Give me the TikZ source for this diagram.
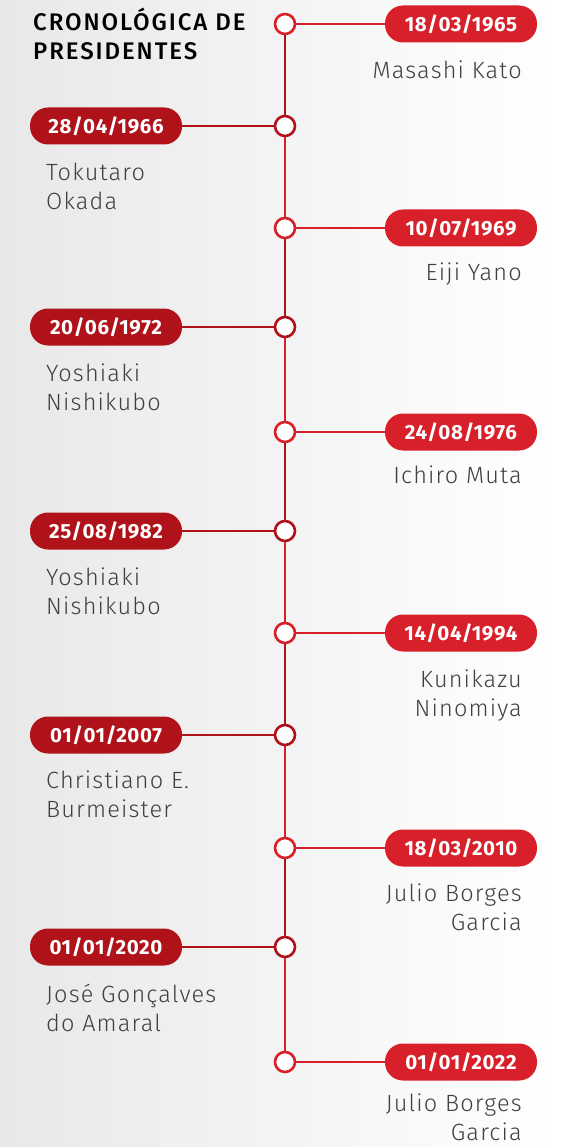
\documentclass[tikz,border=0pt]{standalone}
\usepackage{fontspec}
\setmainfont{Fira Sans}
\newfontfamily\namefont{Fira Sans Light}[LetterSpace=5]
\newfontfamily\datefont{Fira Sans}[LetterSpace=3]
\newfontfamily\titlefont{Fira Sans Medium}[LetterSpace=8]
\usetikzlibrary{positioning}
\definecolor{redlight}{HTML}{D7202A}
\definecolor{reddark}{HTML}{B0121A}
\definecolor{namegray}{HTML}{404040}
\tikzset{
    dotR/.style={circle, draw=redlight, fill=white, line width=2.6pt, minimum size=20pt, inner sep=0pt},
    dotL/.style={dotR, draw=reddark},
    dateR/.style={fill=redlight, text=white, rounded corners=18pt, minimum width=152pt, minimum height=37pt,
        inner sep=0pt, font=\datefont\fontsize{20.5}{22}\selectfont\bfseries},
    dateL/.style={dateR, fill=reddark},
    nameR/.style={anchor=north east, align=right, inner sep=0pt, text=namegray, font=\namefont\fontsize{23.5}{29}\selectfont},
    nameL/.style={nameR, anchor=north west, align=left},
    linkR/.style={draw=redlight, line width=2pt},
    linkL/.style={draw=reddark, line width=2pt},
    segR/.style={draw=redlight, line width=2.6pt},
    segL/.style={draw=reddark, line width=2.6pt}
}

\begin{document}
\begin{tikzpicture}[x=1pt, y=-1pt]
    % Background
    \shade[left color=black!9, right color=white] (0, 0) rectangle (561, 1147);
    \useasboundingbox (0, 0) rectangle (561, 1147);
    % Title
    \node[anchor=north west, align=left, inner sep=0pt, font=\titlefont\fontsize{24}{29}\selectfont] (title) at (33, 8)
        {CRONOLÓGICA DE\\PRESIDENTES};
    % Circles
    \node[dotR] (c1) at (285, 24) {};
    \node[dotL] (c2) at (285, 126) {};
    \node[dotR] (c3) at (285, 228) {};
    \node[dotL] (c4) at (285, 327) {};
    \node[dotR] (c5) at (285, 432) {};
    \node[dotL] (c6) at (285, 531) {};
    \node[dotR] (c7) at (285, 633) {};
    \node[dotL] (c8) at (285, 735) {};
    \node[dotR] (c9) at (285, 848) {};
    \node[dotL] (c10) at (285, 947) {};
    \node[dotR] (c11) at (285, 1062) {};
    % Line
    \draw[segL] (c1) -- (c2);
    \draw[segR] (c2) -- (c3);
    \draw[segL] (c3) -- (c4);
    \draw[segR] (c4) -- (c5);
    \draw[segL] (c5) -- (c6);
    \draw[segR] (c6) -- (c7);
    \draw[segL] (c7) -- (c8);
    \draw[segR] (c8) -- (c9);
    \draw[segL] (c9) -- (c10);
    \draw[segR] (c10) -- (c11);
    % Dates
    \node[dateR] (d1) at (461, 24) {18/03/1965};
    \node[dateL] (d2) at (106, 126) {28/04/1966};
    \node[dateR] (d3) at (461, 228) {10/07/1969};
    \node[dateL] (d4) at (106, 327) {20/06/1972};
    \node[dateR] (d5) at (461, 432) {24/08/1976};
    \node[dateL] (d6) at (106, 531) {25/08/1982};
    \node[dateR] (d7) at (461, 633) {14/04/1994};
    \node[dateL] (d8) at (106, 735) {01/01/2007};
    \node[dateR] (d9) at (461, 848) {18/03/2010};
    \node[dateL] (d10) at (106, 947) {01/01/2020};
    \node[dateR] (d11) at (461, 1062) {01/01/2022};
    % Links
    \draw[linkR] (c1) -- (d1);
    \draw[linkL] (c2) -- (d2);
    \draw[linkR] (c3) -- (d3);
    \draw[linkL] (c4) -- (d4);
    \draw[linkR] (c5) -- (d5);
    \draw[linkL] (c6) -- (d6);
    \draw[linkR] (c7) -- (d7);
    \draw[linkL] (c8) -- (d8);
    \draw[linkR] (c9) -- (d9);
    \draw[linkL] (c10) -- (d10);
    \draw[linkR] (c11) -- (d11);
    % Names
    \node[nameR] (n1) at (522, 61) {Masashi Kato};
    \node[nameL] (n2) at (46, 163) {Tokutaro\\Okada};
    \node[nameR] (n3) at (522, 263) {Eiji Yano};
    \node[nameL] (n4) at (46, 364) {Yoshiaki\\Nishikubo};
    \node[nameR] (n5) at (522, 466) {Ichiro Muta};
    \node[nameL] (n6) at (46, 568) {Yoshiaki\\Nishikubo};
    \node[nameR] (n7) at (522, 670) {Kunikazu\\Ninomiya};
    \node[nameL] (n8) at (46, 771) {Christiano E.\\Burmeister};
    \node[nameR] (n9) at (522, 884) {Julio Borges\\Garcia};
    \node[nameL] (n10) at (46, 984) {José Gonçalves\\do Amaral};
    \node[nameR] (n11) at (522, 1094) {Julio Borges\\Garcia};
\end{tikzpicture}
\end{document}
